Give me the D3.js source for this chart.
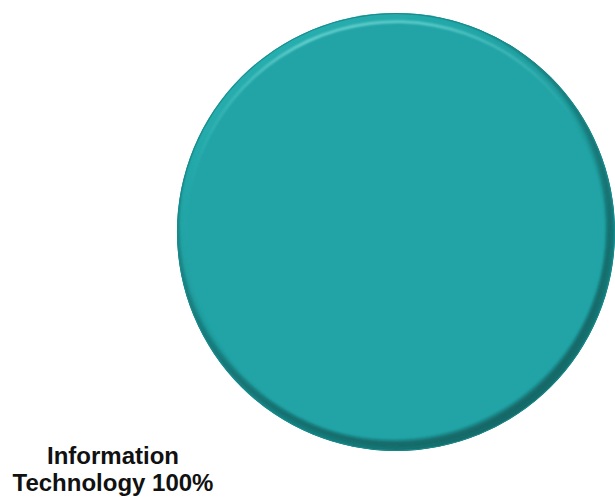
<!DOCTYPE html>
<html><head><meta charset="utf-8">
<script src="https://cdn.jsdelivr.net/npm/d3@7"></script>
<style>html,body{margin:0;padding:0;background:#fff;}svg{display:block;}</style>
</head><body>
<script>
const categories = ["Information Technology"];
const values = [100];
const percentLabels = ["100%"];
const colors = ["#22a4a6"];

const W = 615, H = 498;
const cx = 396, cy = 232, R = 219;

const svg = d3.select("body").append("svg").attr("width", W).attr("height", H);
const defs = svg.append("defs");

const rimGrad = defs.append("linearGradient").attr("id","rim")
  .attr("x1","0.2").attr("y1","0").attr("x2","0.8").attr("y2","1");
rimGrad.append("stop").attr("offset","0").attr("stop-color","#27b0b0");
rimGrad.append("stop").attr("offset","0.45").attr("stop-color","#1f9d9f");
rimGrad.append("stop").attr("offset","0.75").attr("stop-color","#17807f");
rimGrad.append("stop").attr("offset","1").attr("stop-color","#10615f");

const hl = defs.append("linearGradient").attr("id","hl")
  .attr("x1","0").attr("y1","0").attr("x2","1").attr("y2","0");
hl.append("stop").attr("offset","0").attr("stop-color","#7fe0de").attr("stop-opacity",0);
hl.append("stop").attr("offset","0.3").attr("stop-color","#7fe0de").attr("stop-opacity",0.8);
hl.append("stop").attr("offset","0.6").attr("stop-color","#7fe0de").attr("stop-opacity",0.7);
hl.append("stop").attr("offset","1").attr("stop-color","#7fe0de").attr("stop-opacity",0);

defs.append("filter").attr("id","blur2").append("feGaussianBlur").attr("stdDeviation",1.6);
defs.append("filter").attr("id","blur1").append("feGaussianBlur").attr("stdDeviation",0.8);

const pie = d3.pie().sort(null).value(d => d)(values);
const arc = d3.arc().innerRadius(0).outerRadius(R);
const g = svg.append("g").attr("transform", `translate(${cx},${cy})`);

g.selectAll("path.slice").data(pie).join("path").attr("class","slice")
  .attr("d", arc).attr("fill", (d,i) => colors[i]);

// bevel rim
const clip = defs.append("clipPath").attr("id","disc");
clip.append("circle").attr("cx",0).attr("cy",0).attr("r",R);
const rimG = g.append("g").attr("clip-path","url(#disc)");
rimG.selectAll("path.rim").data(pie).join("path").attr("class","rim")
  .attr("d", d3.arc().innerRadius(R-9).outerRadius(R+2))
  .attr("fill","url(#rim)").attr("filter","url(#blur2)");
rimG.append("circle").attr("cx",-3).attr("cy",-6).attr("r",R-2)
  .attr("fill","none").attr("stroke","#0f5f5e").attr("stroke-opacity",0.55)
  .attr("stroke-width",6).attr("filter","url(#blur2)");
rimG.append("circle").attr("cx",0).attr("cy",0).attr("r",R-0.5)
  .attr("fill","none").attr("stroke","#1a8a8b").attr("stroke-width",1);

// top highlight
const hArc = d3.arc().innerRadius(R-10).outerRadius(R-7.5)
  .startAngle(-1.35).endAngle(1.1);
g.append("path").attr("d", hArc()).attr("fill","url(#hl)").attr("filter","url(#blur1)");

// label
const lx = 113;
const lab = svg.append("text").attr("x",lx).attr("y",464)
  .attr("text-anchor","middle").attr("font-family","Liberation Sans, Arial, sans-serif")
  .attr("font-weight","bold").attr("font-size",24).attr("fill","#111");
const words = categories[0].split(" ");
lab.append("tspan").attr("x",lx).attr("dy",0).text(words[0]);
lab.append("tspan").attr("x",lx).attr("dy",27).text(words.slice(1).join(" ") + " " + percentLabels[0]);
</script>
</body></html>
